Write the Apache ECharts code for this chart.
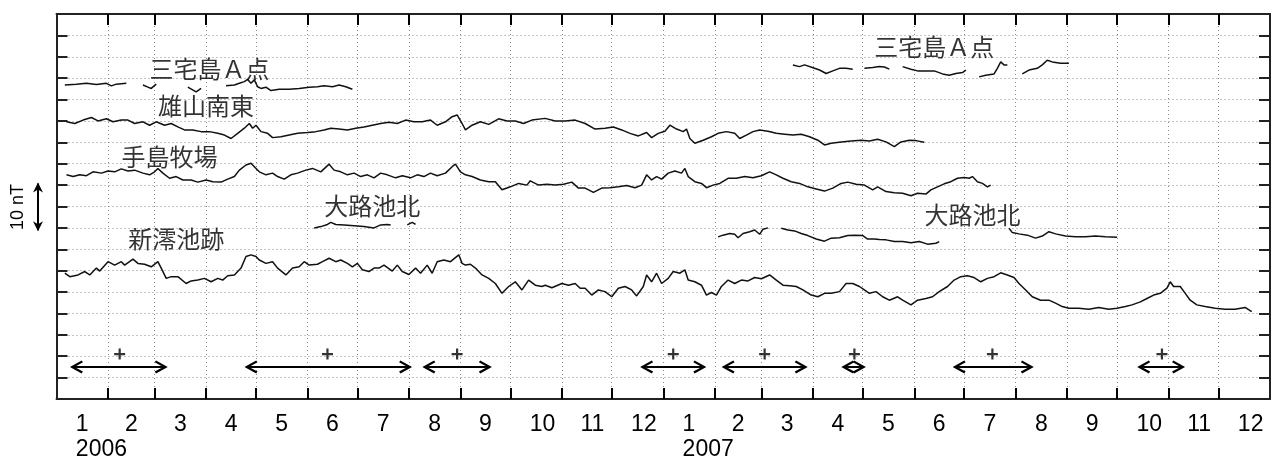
<!DOCTYPE html>
<html>
<head>
<meta charset="utf-8">
<script src="https://cdn.jsdelivr.net/npm/echarts@6/dist/echarts.min.js"></script>
<style>
html, body { margin: 0; padding: 0; background: #fff; }
#graph { width: 1276px; height: 456px; }
</style>
</head>
<body>
<div id="graph"></div>
<script>
"use strict"

// x: days since 2006-01-01, y: total force in nT (one grid step = 5 nT)
const monthStarts = [0, 31, 59, 90, 120, 151, 181, 212, 243, 273, 304, 334,
    365, 396, 424, 455, 485, 516, 546, 577, 608, 638, 669, 699, 730];
const monthNames = ["1", "2", "3", "4", "5", "6", "7", "8", "9", "10", "11", "12",
    "1", "2", "3", "4", "5", "6", "7", "8", "9", "10", "11", "12"];
const yearNames = ["2006", "2007"];

// each station: list of continuous segments of [day, nT]
const miyakeA2006 = [
    [[5, 73.4], [12, 73.6], [18, 73.8], [24, 73.5], [30, 73.8], [33, 73.2], [36, 73.6], [42, 73.8]],
    [[52, 73.4], [55, 72.9], [57, 72.6], [60, 73.6]],
    [[79, 72.9], [84, 71.8], [87, 72.6]],
    [[102, 73.2], [107, 73.4], [110, 73.8], [113, 74.2], [115, 74.7], [117, 73.8], [119, 74.6], [121, 73.0],
     [123, 72.6], [126, 72.9], [129, 72.1], [134, 72.4], [140, 72.4], [146, 72.6], [152, 72.9], [157, 73.0],
     [161, 73.2], [166, 73.0], [170, 73.4], [174, 73.0], [178, 72.4]]
];
const miyakeA2007 = [
    [[443, 78.1], [447, 77.7], [450, 78.1], [456, 77.3], [459, 76.9], [463, 76.1], [467, 76.7], [471, 77.3],
     [475, 77.3], [479, 77.1]],
    [[486, 77.3], [491, 77.5], [495, 77.7], [498, 77.6], [501, 77.1]],
    [[509, 77.7], [514, 77.1], [518, 76.7], [523, 76.7], [528, 76.7], [533, 76.0], [537, 75.7], [541, 76.1],
     [545, 76.3], [547, 76.9]],
    [[555, 75.3], [559, 75.7], [564, 76.0], [566, 77.3], [568, 78.8], [570, 78.1], [572, 78.1]],
    [[581, 76.0], [585, 76.9], [590, 77.3], [593, 78.1], [596, 79.2], [599, 78.8], [604, 78.5], [609, 78.5]]
];
const oyamaSE = [
    [[6, 64.8], [11, 64.4], [16, 65.2], [21, 65.8], [25, 65.0], [30, 65.5], [34, 64.8], [39, 65.2], [43, 65.2],
     [47, 64.4], [52, 64.8], [56, 64.0], [60, 64.8], [65, 64.0], [69, 64.4], [73, 63.6], [77, 62.9], [82, 62.9],
     [87, 62.5], [92, 62.5], [97, 62.1], [101, 61.7], [105, 60.9], [109, 62.1], [113, 63.3], [116, 64.4],
     [118, 63.3], [120, 64.0], [123, 62.5], [127, 62.1], [130, 61.1], [135, 61.3], [140, 61.7], [145, 62.1],
     [151, 62.3], [156, 62.5], [161, 62.9], [165, 63.3], [170, 63.1], [175, 62.9], [180, 63.3], [185, 63.6],
     [190, 64.0], [195, 64.4], [200, 64.7], [205, 64.4], [210, 65.2], [215, 64.8], [220, 64.8], [225, 65.2],
     [229, 64.0], [234, 64.8], [238, 66.0], [241, 66.4], [244, 64.4], [246, 62.9], [250, 64.0], [255, 64.8],
     [260, 64.2], [266, 65.5], [271, 65.0], [276, 65.0], [281, 64.4], [286, 65.2], [294, 65.6], [300, 65.0],
     [306, 65.0], [312, 65.2], [318, 64.4], [324, 63.1], [330, 63.3], [335, 63.6], [340, 62.9], [345, 62.1],
     [350, 61.5], [355, 62.3], [358, 61.1], [362, 62.1], [366, 62.6], [369, 64.0], [373, 63.1], [377, 62.5],
     [379, 63.1], [381, 60.9], [384, 59.8], [389, 60.5], [394, 61.3], [398, 62.1], [403, 62.5], [408, 62.1],
     [411, 60.9], [415, 61.7], [419, 62.5], [423, 62.9], [428, 62.6], [433, 62.1], [438, 61.9], [443, 61.7],
     [448, 61.9], [453, 61.3], [458, 60.5], [462, 59.4], [466, 59.8], [472, 60.1], [478, 60.3], [484, 60.5],
     [489, 60.3], [494, 60.7], [499, 60.1], [504, 59.0], [508, 60.1], [513, 60.5], [517, 60.4], [522, 60.0]]
];
const teshimaFarm = [
    [[6, 52.4], [10, 52.0], [14, 52.4], [18, 52.2], [22, 53.1], [27, 52.8], [31, 53.3], [35, 53.1], [39, 53.8],
     [43, 53.3], [47, 53.5], [52, 52.8], [56, 52.4], [59, 53.1], [61, 53.9], [64, 52.8], [68, 51.6], [72, 52.0],
     [76, 51.2], [81, 51.2], [85, 50.7], [90, 51.2], [94, 50.8], [99, 50.7], [103, 51.4], [107, 52.0],
     [110, 53.5], [114, 54.7], [117, 55.1], [119, 54.3], [122, 53.1], [126, 52.4], [130, 52.8], [133, 52.0],
     [137, 51.4], [141, 52.4], [145, 52.8], [150, 53.5], [154, 53.9], [159, 53.1], [164, 54.9], [167, 53.5],
     [171, 53.1], [175, 52.4], [179, 52.8], [183, 52.0], [187, 52.4], [191, 51.7], [195, 52.8], [199, 52.4],
     [204, 51.7], [208, 52.2], [213, 51.7], [217, 52.4], [221, 52.0], [225, 52.8], [229, 52.2], [234, 52.8],
     [238, 54.3], [240, 54.9], [243, 53.1], [246, 52.4], [250, 52.0], [255, 51.2], [260, 50.8], [264, 50.8],
     [268, 48.9], [273, 49.6], [278, 50.4], [283, 50.0], [285, 51.0], [290, 50.0], [295, 50.2], [300, 50.0],
     [305, 50.2], [310, 50.7], [314, 49.3], [318, 49.3], [323, 48.3], [328, 49.3], [333, 49.4], [338, 49.6],
     [343, 49.9], [348, 49.4], [352, 50.0], [355, 52.4], [358, 51.2], [361, 52.0], [364, 51.4], [368, 52.8],
     [372, 53.3], [376, 52.8], [378, 53.9], [380, 52.0], [384, 50.8], [388, 50.4], [391, 49.4], [395, 50.0],
     [399, 50.4], [404, 51.6], [409, 51.6], [414, 52.0], [419, 51.7], [424, 52.2], [429, 53.1], [433, 52.4],
     [437, 51.6], [442, 50.8], [447, 50.4], [452, 49.6], [457, 49.1], [462, 48.6], [467, 49.3], [472, 50.4],
     [476, 50.7], [481, 50.2], [486, 50.0], [491, 48.9], [494, 49.6], [499, 48.5], [504, 48.2], [509, 48.1],
     [514, 47.5], [518, 48.1], [523, 47.9], [526, 48.9], [530, 49.6], [534, 50.3], [538, 50.8], [542, 51.6],
     [546, 51.8], [549, 51.6], [551, 52.0], [554, 50.8], [557, 50.4], [560, 49.6], [562, 50.0]]
];
const oijiNorth2006 = [
    [[155, 40.0], [159, 40.3], [163, 40.8], [165, 41.3], [168, 40.8], [173, 40.7], [179, 40.5], [185, 40.3],
     [191, 40.0], [195, 40.7], [199, 40.8], [201, 40.7]],
    [[211, 40.7], [214, 41.3], [216, 40.8]]
];
const oijiNorth2007 = [
    [[398, 37.9], [401, 38.3], [405, 38.7], [408, 38.5], [410, 37.7], [413, 38.7], [417, 39.1], [420, 39.5],
     [423, 38.5], [425, 39.7], [428, 40.0]],
    [[436, 39.9], [440, 39.5], [444, 39.3], [448, 38.7], [452, 38.2], [457, 37.4], [462, 36.9], [466, 37.6],
     [471, 37.7], [476, 38.2], [480, 38.3], [485, 38.2], [488, 37.4], [492, 37.4], [495, 37.3], [499, 37.2],
     [504, 36.8], [509, 36.8], [514, 36.5], [519, 36.8], [524, 36.2], [529, 36.4], [531, 36.8]],
    [[573, 39.9], [575, 38.9], [579, 38.6], [584, 38.3], [589, 37.6], [593, 38.1], [597, 39.1], [601, 38.6],
     [607, 38.1], [613, 37.9], [619, 37.9], [625, 38.1], [631, 37.9], [638, 37.8]]
];
const shinmioPond = [
    [[5, 29.4], [8, 28.6], [13, 29.0], [17, 29.8], [20, 29.0], [24, 30.6], [26, 29.9], [31, 32.1], [35, 31.3],
     [39, 32.1], [41, 31.3], [46, 32.7], [49, 31.7], [53, 31.5], [57, 30.9], [61, 32.1], [63, 30.6], [66, 28.2],
     [69, 28.6], [73, 28.6], [78, 27.0], [81, 27.6], [85, 27.8], [89, 28.2], [93, 27.4], [97, 28.2], [100, 27.8],
     [103, 28.8], [107, 29.0], [111, 30.6], [114, 33.3], [117, 33.7], [120, 33.3], [122, 32.5], [126, 31.7],
     [130, 32.1], [133, 30.6], [138, 29.0], [142, 30.6], [146, 30.9], [149, 32.1], [152, 31.3], [157, 31.5],
     [160, 32.1], [164, 32.9], [168, 32.1], [171, 32.5], [175, 31.7], [178, 30.9], [181, 31.7], [184, 30.2],
     [188, 29.8], [191, 30.6], [194, 30.6], [197, 31.3], [202, 29.9], [205, 31.3], [208, 29.8], [212, 29.1],
     [216, 30.6], [219, 29.4], [223, 31.3], [226, 29.4], [229, 32.1], [233, 32.5], [237, 32.1], [242, 33.7],
     [244, 31.7], [246, 31.3], [249, 31.5], [252, 30.6], [256, 29.0], [260, 28.2], [264, 27.0], [268, 24.7],
     [272, 26.3], [276, 27.4], [280, 25.5], [284, 27.8], [288, 26.6], [292, 26.3], [294, 26.6], [298, 26.0],
     [304, 27.0], [308, 26.6], [312, 27.0], [315, 25.9], [318, 25.9], [322, 24.3], [326, 25.5], [330, 25.1],
     [334, 23.9], [338, 25.9], [342, 26.3], [346, 25.5], [349, 24.1], [353, 26.3], [355, 29.0], [358, 27.4],
     [361, 29.4], [364, 27.0], [368, 28.2], [371, 29.8], [375, 29.4], [378, 30.2], [380, 27.8], [384, 27.4],
     [388, 26.6], [391, 24.3], [394, 24.9], [397, 24.3], [400, 26.3], [404, 27.8], [408, 27.0], [412, 27.8],
     [416, 27.6], [420, 28.4], [424, 28.1], [429, 29.0], [433, 27.8], [437, 26.6], [441, 26.5], [445, 26.3],
     [449, 25.5], [454, 24.3], [458, 23.9], [462, 24.7], [466, 24.7], [471, 25.1], [475, 27.0], [479, 27.0],
     [483, 26.3], [486, 25.5], [489, 24.7], [493, 25.1], [497, 23.9], [501, 23.1], [506, 23.9], [509, 23.1],
     [514, 22.0], [518, 23.1], [523, 23.5], [527, 23.9], [531, 25.1], [536, 26.3], [540, 27.8], [544, 28.6],
     [548, 28.8], [552, 28.4], [556, 27.4], [560, 28.2], [564, 28.6], [568, 29.5], [572, 29.0], [576, 28.4],
     [579, 27.0], [583, 25.5], [587, 23.9], [592, 23.1], [597, 23.1], [601, 22.4], [605, 21.6], [609, 21.2],
     [615, 21.2], [621, 21.0], [627, 21.4], [633, 21.0], [638, 21.2], [643, 21.6], [647, 22.0], [652, 22.7],
     [656, 23.5], [660, 24.3], [664, 24.7], [668, 25.9], [670, 27.4], [672, 26.3], [676, 26.3], [679, 24.7],
     [682, 23.1], [686, 22.0], [691, 21.6], [697, 21.2], [703, 21.0], [709, 21.0], [715, 21.4], [719, 20.4]]
];

// station names placed at [day, nT]
const stationLabels = [
    ["三宅島Ａ点", 92, 77.1],
    ["雄山南東", 90, 68.5],
    ["手島牧場", 68, 56.6],
    ["大路池北", 190, 45.1],
    ["新澪池跡", 72, 37.4],
    ["三宅島Ａ点", 528, 82.3],
    ["大路池北", 551, 43.0]
];

// observation periods along the bottom (start day, end day) and their "+" marks
const periodSpans = [[8, 67], [113, 214], [220, 262], [351, 391], [400, 452], [472, 487], [539, 588], [650, 679]];
const periodPlus = [38, 163, 241, 371, 426, 480, 563, 665];
const periodLevel = 7.5;
const plusLevel = 10.5;
const scaleBar = [39.2, 50.6];   // the "10 nT" bar
const yMax = 90;
const tickReach = 2.6;           // month ticks reach about half a grid step into the frame

const LABEL_FONT = 23;
const ARROW_INSET = 4;  // days, so arrow tips end where the line ends
const TICK_LEN = 11;

const midMonths = monthStarts.slice(0, 24).map((d, i) => (d + monthStarts[i + 1]) / 2);
// labels are set from their left edge so the first digit sits at mid-month
const labelShift = 3.85;
const labelValues = midMonths.map(d => d - labelShift);
const yearValues = [labelValues[0], labelValues[12]];
function nearestIndex(arr, val)
{
    let best = 0;
    arr.forEach((v, i) => { if (Math.abs(v - val) < Math.abs(arr[best] - val)) best = i; });
    return best;
}

const lineColor = "#111";
function stationSeries(segments)
{
    return segments.map(seg => ({
        type: "line",
        data: seg,
        showSymbol: false,
        symbol: "none",
        silent: true,
        lineStyle: { color: lineColor, width: 1.5 },
        z: 3
    }));
}

const chevron = "path://M5,0L10,9L8.6,10L5,3.5L1.4,10L0,9ZM4.3,1H5.7V10H4.3Z";
const plusPath = "path://M4,0H6V4H10V6H6V10H4V6H0V4H4Z";

const innerMonths = monthStarts.slice(1, -1);
const series = [].concat(
    stationSeries(miyakeA2006),
    stationSeries(miyakeA2007),
    stationSeries(oyamaSE),
    stationSeries(teshimaFarm),
    stationSeries(oijiNorth2006),
    stationSeries(oijiNorth2007),
    stationSeries(shinmioPond),
    [{
        type: "lines",
        coordinateSystem: "cartesian2d",
        silent: true,
        symbol: [chevron, chevron],
        symbolSize: 13,
        lineStyle: { color: "#000", width: 2, opacity: 1, curveness: 0 },
        itemStyle: { color: "#000" },
        data: periodSpans.map(s => ({ coords: [[s[0] + ARROW_INSET, periodLevel], [s[1] - ARROW_INSET, periodLevel]] })),
        z: 4
    },
    {
        // month ticks on the bottom and top edges of the frame
        type: "lines",
        coordinateSystem: "cartesian2d",
        silent: true,
        symbol: ["none", "none"],
        lineStyle: { color: "#000", width: 2, opacity: 1, curveness: 0 },
        data: innerMonths.map(d => ({ coords: [[d, 0], [d, tickReach]] }))
            .concat(innerMonths.map(d => ({ coords: [[d, yMax], [d, yMax - tickReach]] }))),
        z: 6
    },
    {
        type: "scatter",
        silent: true,
        symbol: plusPath,
        symbolSize: 11,
        itemStyle: { color: "#000" },
        data: periodPlus.map(d => [d, plusLevel]),
        z: 4
    },
    {
        type: "scatter",
        silent: true,
        symbolSize: 1,
        itemStyle: { color: "rgba(0,0,0,0)" },
        label: {
            show: true,
            position: "inside",
            formatter: p => p.data[2],
            color: "#000",
            fontSize: 24,
            fontFamily: "Noto Sans CJK JP"
        },
        data: stationLabels.map(s => [s[1], s[2], s[0]]),
        z: 5
    }]
);

const frame = { show: true, onZero: false, lineStyle: { color: "#222", width: 2 } };
const insideTick = (extra) => Object.assign({ show: true, inside: true, length: TICK_LEN, lineStyle: { color: "#222", width: 2 } }, extra);
const dotted = { show: true, lineStyle: { color: "#8a8a8a", width: 1, type: [1, 3] } };
const labelFont = { fontSize: LABEL_FONT, lineHeight: 25, fontFamily: "Liberation Sans", color: "#000", align: "left" };

const option = {
    animation: false,
    backgroundColor: "#fff",
    grid: { left: 56.5, right: 6, top: 14, bottom: 57, containLabel: false, outerBoundsMode: "none" },
    xAxis: [
        {
            type: "value", min: 0, max: 730, position: "bottom",
            axisLine: frame,
            axisTick: insideTick({ customValues: monthStarts }),
            splitLine: dotted,
            axisLabel: Object.assign({
                customValues: labelValues,
                formatter: v => monthNames[nearestIndex(labelValues, v)],
                margin: 13
            }, labelFont)
        },
        {
            type: "value", min: 0, max: 730, position: "top",
            axisLine: frame,
            axisTick: { show: false },
            splitLine: { show: false },
            axisLabel: { show: false }
        },
        {
            // year line under the January labels
            type: "value", min: 0, max: 730, position: "bottom",
            axisLine: { show: false, onZero: false },
            axisTick: { show: false },
            splitLine: { show: false },
            axisLabel: Object.assign({
                customValues: yearValues,
                formatter: v => yearNames[nearestIndex(yearValues, v)],
                margin: 38
            }, labelFont)
        }
    ],
    yAxis: [
        {
            type: "value", min: 0, max: yMax, interval: 5, position: "left",
            axisLine: frame, axisTick: insideTick({}), splitLine: dotted, axisLabel: { show: false }
        },
        {
            type: "value", min: 0, max: yMax, interval: 5, position: "right",
            axisLine: frame, axisTick: insideTick({}), splitLine: { show: false }, axisLabel: { show: false }
        }
    ],
    series: series
};

const myChart = echarts.init(document.getElementById("graph"), null, { renderer: "canvas" });
myChart.setOption(option);

// "10 nT" scale bar to the left of the frame
const yPix = v => myChart.convertToPixel({ yAxisIndex: 0 }, v);
const yTop = yPix(scaleBar[1]);
const yBot = yPix(scaleBar[0]);
const barX = 38;
myChart.setOption({
    graphic: [
        { type: "line", shape: { x1: barX, y1: yTop + 1, x2: barX, y2: yBot - 1 }, style: { stroke: "#000", lineWidth: 2 } },
        { type: "polygon", shape: { points: [[barX, yTop], [barX - 5, yTop + 10], [barX, yTop + 7], [barX + 5, yTop + 10]] }, style: { fill: "#000" } },
        { type: "polygon", shape: { points: [[barX, yBot], [barX - 5, yBot - 10], [barX, yBot - 7], [barX + 5, yBot - 10]] }, style: { fill: "#000" } },
        {
            type: "text", x: 18, y: (yTop + yBot) / 2, rotation: Math.PI / 2,
            style: { text: "10 nT", fill: "#000", font: "18px 'Liberation Sans'", align: "center", verticalAlign: "middle" }
        }
    ]
});
</script>
</body>
</html>
